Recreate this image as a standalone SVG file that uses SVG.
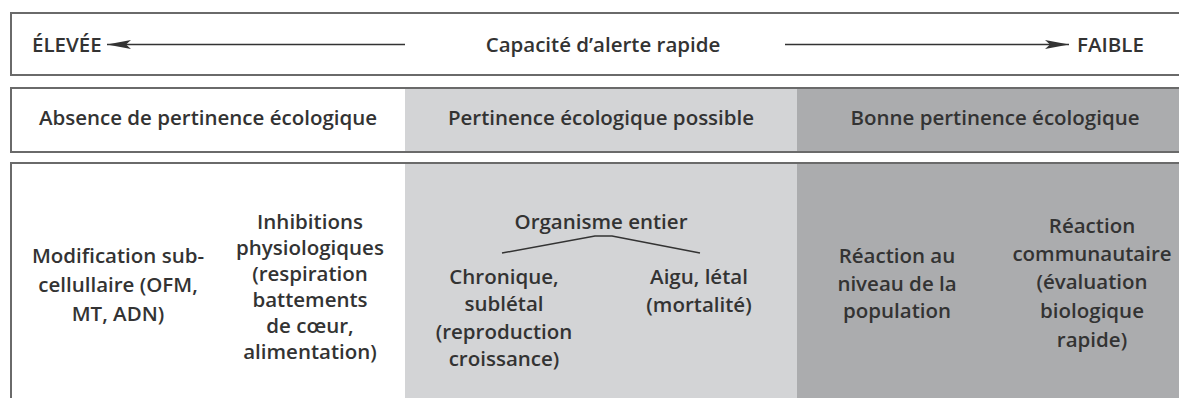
<svg xmlns="http://www.w3.org/2000/svg" width="1179" height="398" viewBox="0 0 1179 398">
<style>
.t{font-family:"Open Sans","Liberation Sans",sans-serif;font-weight:600;font-size:20.5px;fill:#333333}
.c{text-anchor:middle}
.box{fill:none;stroke:#6a6a6a;stroke-width:2}
.light{fill:#d3d4d6}
.dark{fill:#abacae}
.ln{stroke:#333333;stroke-width:1.5;fill:none}
</style>
<defs>
<marker id="ah" viewBox="0 0 24 10" refX="24" refY="5" markerWidth="24" markerHeight="9" markerUnits="userSpaceOnUse" orient="auto" preserveAspectRatio="none">
<path d="M0,0 L24,5 L0,10 L5,5 Z" fill="#333333"/>
</marker>
</defs>
<rect width="1179" height="398" fill="#ffffff"/>
<g id="row1">
<rect class="box" x="11" y="13" width="1190" height="62"/>
<text class="t" x="32" y="52">ÉLEVÉE</text>
<text class="t c" x="603" y="52">Capacité d’alerte rapide</text>
<text class="t" x="1077" y="52">FAIBLE</text>
</g>
<g id="row2">
<rect class="light" x="405" y="88" width="392" height="64"/>
<rect class="dark" x="797" y="88" width="400" height="64"/>
<rect class="box" x="11" y="88" width="1190" height="64"/>
<text class="t c" x="208" y="125">Absence de pertinence écologique</text>
<text class="t c" x="601" y="125">Pertinence écologique possible</text>
<text class="t c" x="995" y="125">Bonne pertinence écologique</text>
</g>
<g id="row3">
<rect class="light" x="405" y="163" width="392" height="250"/>
<rect class="dark" x="797" y="163" width="400" height="250"/>
<rect class="box" x="11" y="163" width="1190" height="260"/>
</g>
<g id="subcellulaire">
<text class="t c" x="118" y="263">Modification sub-</text>
<text class="t c" x="118" y="292">cellullaire (OFM,</text>
<text class="t c" x="118" y="321">MT, ADN)</text>
</g>
<g id="physiologiques">
<text class="t c" x="310" y="229">Inhibitions</text>
<text class="t c" x="310" y="255">physiologiques</text>
<text class="t c" x="310" y="281">(respiration</text>
<text class="t c" x="310" y="307">battements</text>
<text class="t c" x="310" y="333">de cœur,</text>
<text class="t c" x="310" y="359">alimentation)</text>
</g>
<g id="organisme">
<text class="t c" x="601" y="229">Organisme entier</text>
</g>
<g id="chronique">
<text class="t c" x="504" y="284">Chronique,</text>
<text class="t c" x="504" y="311">sublétal</text>
<text class="t c" x="504" y="339">(reproduction</text>
<text class="t c" x="504" y="366">croissance)</text>
</g>
<g id="aigu">
<text class="t c" x="699" y="284">Aigu, létal</text>
<text class="t c" x="699" y="312">(mortalité)</text>
</g>
<g id="population">
<text class="t c" x="897" y="263">Réaction au</text>
<text class="t c" x="897" y="291">niveau de la</text>
<text class="t c" x="897" y="318">population</text>
</g>
<g id="communautaire">
<text class="t c" x="1092" y="233">Réaction</text>
<text class="t c" x="1092" y="261">communautaire</text>
<text class="t c" x="1092" y="289">(évaluation</text>
<text class="t c" x="1092" y="318">biologique</text>
<text class="t c" x="1092" y="347">rapide)</text>
</g>
<g id="connectors">
<line class="ln" x1="405" y1="44.5" x2="107" y2="44.5" marker-end="url(#ah)"/>
<line class="ln" x1="785" y1="44.5" x2="1069" y2="44.5" marker-end="url(#ah)"/>
<polyline class="ln" points="502,253 595,236 612,236 700,253"/>
</g>
</svg>
